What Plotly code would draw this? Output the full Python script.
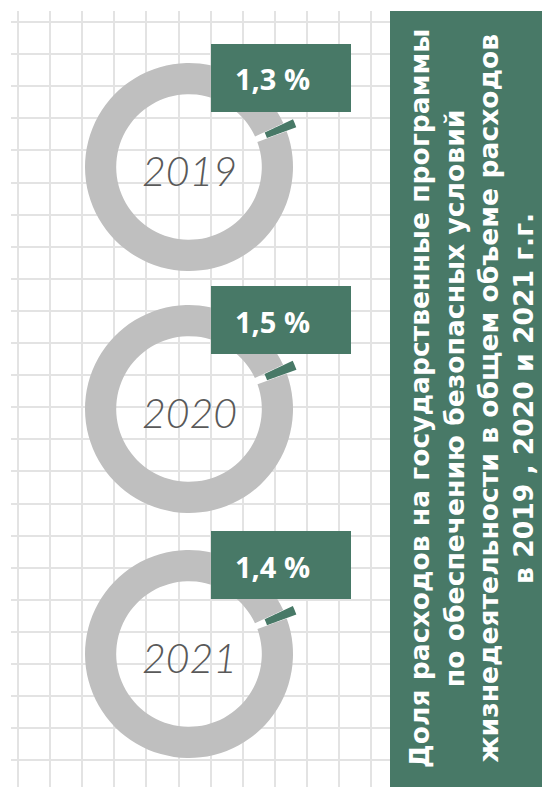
import plotly.graph_objects as go

# --- data -------------------------------------------------------------
years = ["2019", "2020", "2021"]
shares = [1.3, 1.5, 1.4]          # share of total expenditure, %
panel_lines = [
    "Доля расходов на государственные программы",
    "по обеспечению безопасных условий",
    "жизнедеятельности в общем объеме расходов",
    "в 2019 , 2020 и 2021 г.г.",
]

# --- styling / layout constants --------------------------------------
W, H = 542, 787
GREEN = "#487967"
GREY = "#BFBFBF"
GRID = "#E3E3E3"
YEAR_COLOR = "#595959"

GRID_LEFT, GRID_TOP, GRID_RIGHT = 11, 11, 390
GRID_STEP = 32.1
GRID_X0, GRID_Y0 = 18, 22

RADIUS = 104
PULL = 0.1
HOLE = 0.7
CENTER_X = 189
CENTER_YS = [167, 409, 654]
SLICE_MID_ANGLE = 67.5            # degrees clockwise from 12 o'clock


def px(x):
    return x / W


def py(y):
    return 1 - y / H


fig = go.Figure()

# empty cartesian trace so the gridded background axes are drawn
fig.add_trace(go.Scatter(x=[], y=[], showlegend=False, hoverinfo="skip"))

xticks = [GRID_X0 + GRID_STEP * k for k in range(int((GRID_RIGHT - GRID_X0) / GRID_STEP) + 1)]
yticks = [GRID_Y0 + GRID_STEP * k for k in range(int((H - GRID_Y0) / GRID_STEP) + 1)]

fig.update_xaxes(
    domain=[px(GRID_LEFT), px(GRID_RIGHT)], range=[GRID_LEFT, GRID_RIGHT],
    tickvals=xticks, showticklabels=False, ticks="", showgrid=True,
    gridcolor=GRID, gridwidth=2, zeroline=False, showline=False, fixedrange=True,
)
fig.update_yaxes(
    domain=[0, py(GRID_TOP)], range=[H, GRID_TOP],
    tickvals=yticks, showticklabels=False, ticks="", showgrid=True,
    gridcolor=GRID, gridwidth=2, zeroline=False, showline=False, fixedrange=True,
)

half = RADIUS * (1 + PULL)
shapes = []
annotations = []

for year, share, cy in zip(years, shares, CENTER_YS):
    fig.add_trace(go.Pie(
        values=[share, 100 - share],
        labels=["share", "rest"],
        marker=dict(colors=[GREEN, GREY], line=dict(width=0)),
        hole=HOLE,
        pull=[PULL, 0],
        sort=False,
        direction="clockwise",
        rotation=SLICE_MID_ANGLE - share * 3.6 / 2,
        textinfo="none",
        hoverinfo="skip",
        showlegend=False,
        domain=dict(
            x=[px(CENTER_X - half), px(CENTER_X + half)],
            y=[py(cy + half), py(cy - half)],
        ),
    ))

    # year in the donut hole
    annotations.append(dict(
        x=px(CENTER_X), y=py(cy + 3), xref="paper", yref="paper",
        text=year, showarrow=False, xanchor="center", yanchor="middle",
        font=dict(family="Lato", size=41, color=YEAR_COLOR, style="italic", weight=300),
    ))

    # value label box
    bx0, bx1 = CENTER_X + 22, CENTER_X + 162
    by0, by1 = cy - 123, cy - 55
    shapes.append(dict(
        type="rect", xref="paper", yref="paper",
        x0=px(bx0), x1=px(bx1), y0=py(by1), y1=py(by0),
        fillcolor=GREEN, line=dict(width=0), layer="above",
    ))
    label = f"{share:.1f}".replace(".", ",") + " %"
    annotations.append(dict(
        x=px(bx0 + 61), y=py((by0 + by1) / 2 + 1), xref="paper", yref="paper",
        text=label, showarrow=False, xanchor="center", yanchor="middle",
        font=dict(family="Open Sans", size=29, color="white", weight=700),
    ))

# side title panel
shapes.append(dict(
    type="rect", xref="paper", yref="paper",
    x0=px(GRID_RIGHT), x1=1, y0=0, y1=py(GRID_TOP),
    fillcolor=GREEN, line=dict(width=0), layer="above",
))
annotations.append(dict(
    x=px(471), y=py(399), xref="paper", yref="paper",
    text="<br>".join(panel_lines), textangle=-90, showarrow=False,
    xanchor="center", yanchor="middle", align="center",
    font=dict(family="DejaVu Sans", size=26.6, color="white", weight="bold"),
))

fig.update_layout(
    width=W, height=H,
    margin=dict(l=0, r=0, t=0, b=0),
    paper_bgcolor="white", plot_bgcolor="white",
    shapes=shapes, annotations=annotations,
)

fig.write_html("out.html", config={"displayModeBar": False})
